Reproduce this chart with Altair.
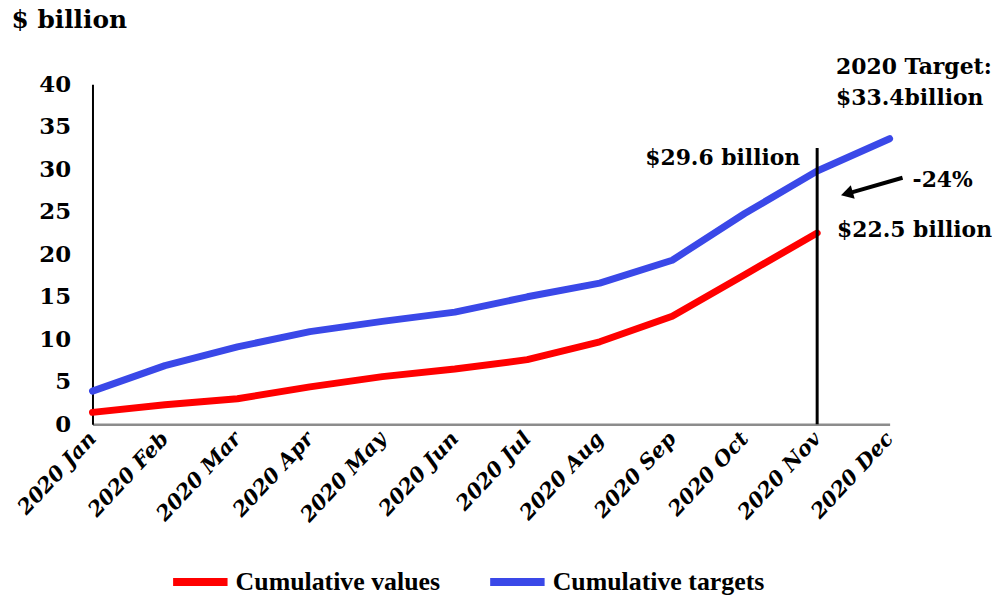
import altair as alt
import pandas as pd

months = ["2020 Jan", "2020 Feb", "2020 Mar", "2020 Apr", "2020 May", "2020 Jun",
          "2020 Jul", "2020 Aug", "2020 Sep", "2020 Oct", "2020 Nov", "2020 Dec"]
cum_values = [1.4, 2.3, 3.0, 4.4, 5.6, 6.5, 7.6, 9.7, 12.7, 17.6, 22.5]
cum_targets = [3.9, 6.9, 9.1, 10.9, 12.1, 13.2, 15.0, 16.6, 19.3, 24.8, 29.8, 33.6]
series_names = ["Cumulative values", "Cumulative targets"]
series_colors = ["#ff0000", "#3a48e8"]

rows = []
for i, v in enumerate(cum_values):
    rows.append({"idx": i, "month": months[i], "value": v, "series": series_names[0]})
for i, v in enumerate(cum_targets):
    rows.append({"idx": i, "month": months[i], "value": v, "series": series_names[1]})
df = pd.DataFrame(rows)

SERIF = "DejaVu Serif"
NOV = months.index("2020 Nov")

label_expr = "[" + ",".join("'%s'" % m for m in months) + "][datum.value]"
x_scale = alt.Scale(domain=[0, len(months) - 1], nice=False, zero=False)
x_axis = alt.Axis(title=None, values=list(range(len(months))), labelExpr=label_expr,
                  labelAngle=313, labelFont=SERIF, labelFontSize=21,
                  labelFontWeight="bold", labelFontStyle="italic", labelColor="black",
                  ticks=False, labelPadding=11, domainColor="#8c8c8c", domainWidth=2.5,
                  grid=False, labelAlign="right", labelBaseline="middle", labelFlush=False,
                  labelOverlap=False, labelBound=False)


def X(field="idx"):
    return alt.X(f"{field}:Q", scale=x_scale, axis=x_axis)


y_scale = alt.Scale(domain=[0, 40], nice=False)

lines = alt.Chart(df).mark_line(strokeWidth=7, strokeCap="round", strokeJoin="round").encode(
    x=X(),
    y=alt.Y("value:Q", scale=y_scale,
            axis=alt.Axis(title="$ billion", titleAngle=0, titleX=-82, titleY=-65,
                          titleAlign="left", titleBaseline="middle", titleFont=SERIF,
                          titleFontSize=25, titleFontWeight="bold", titleColor="black",
                          values=[0, 5, 10, 15, 20, 25, 30, 35, 40], labelFont=SERIF,
                          labelFontSize=23, labelFontWeight="bold", labelColor="black",
                          ticks=False, labelPadding=22, domainColor="black", domainWidth=2,
                          grid=False)),
    color=alt.Color("series:N", sort=series_names,
                    scale=alt.Scale(domain=series_names, range=series_colors),
                    legend=alt.Legend(title=None, orient="none", legendX=77, legendY=469,
                                      direction="horizontal", symbolType="stroke",
                                      symbolStrokeWidth=8, symbolSize=3000,
                                      labelFont="Liberation Sans Narrow", labelFontSize=26,
                                      labelFontWeight="bold", labelColor="black",
                                      columnPadding=34, labelOffset=4, labelLimit=400)),
    order="idx:Q",
)

# vertical marker at Nov
vline_df = pd.DataFrame({"idx": [NOV], "y0": [0], "y1": [32.5]})
vline = alt.Chart(vline_df).mark_rule(color="black", strokeWidth=3).encode(
    x=X(), y="y0:Q", y2="y1:Q")

ann_df = pd.DataFrame({
    "idx": [NOV, NOV],
    "y": [31.3, 22.8],
    "label": ["$29.6 billion", "$22.5 billion"],
})
ann_left = alt.Chart(ann_df.iloc[[0]]).mark_text(
    font=SERIF, fontSize=22, fontWeight="bold", color="black", align="right",
    baseline="middle", dx=-17).encode(x=X(), y="y:Q", text="label:N")
ann_right = alt.Chart(ann_df.iloc[[1]]).mark_text(
    font=SERIF, fontSize=22, fontWeight="bold", color="black", align="left",
    baseline="middle", dx=20).encode(x=X(), y="y:Q", text="label:N")

pct_df = pd.DataFrame({"idx": [NOV], "y": [28.7], "label": ["-24%"]})
pct = alt.Chart(pct_df).mark_text(
    font=SERIF, fontSize=22, fontWeight="bold", color="black", align="left",
    baseline="middle", dx=96).encode(x=X(), y="y:Q", text="label:N")

target_df = pd.DataFrame({"idx": [NOV], "y": [42.0],
                          "label": [["2020 Target:", "$33.4billion"]]})
target = alt.Chart(target_df).mark_text(
    font=SERIF, fontSize=22, fontWeight="bold", color="black", align="left",
    baseline="middle", dx=19, lineHeight=31).encode(x=X(), y="y:Q", text="label")

# arrow pointing to the marker line
arrow_line = alt.Chart(pd.DataFrame({"a": [0]})).mark_rule(
    color="black", strokeWidth=4).encode(
    x=alt.value(815), x2=alt.value(763), y=alt.value(94), y2=alt.value(109))
arrow_head = alt.Chart(pd.DataFrame({"a": [0]})).mark_point(
    shape="triangle-up", filled=True, color="black", size=200, angle=254, opacity=1).encode(
    x=alt.value(759), y=alt.value(110))

chart = alt.layer(lines, vline, ann_left, ann_right, pct, target, arrow_line, arrow_head).properties(
    width=802, height=342,
    autosize=alt.AutoSizeParams(type="none"),
    padding={"left": 85, "top": 75, "right": 103, "bottom": 171},
).configure(background="white").configure_view(stroke=None)

chart.save("out.html", embed_options={"renderer": "svg", "actions": False})
